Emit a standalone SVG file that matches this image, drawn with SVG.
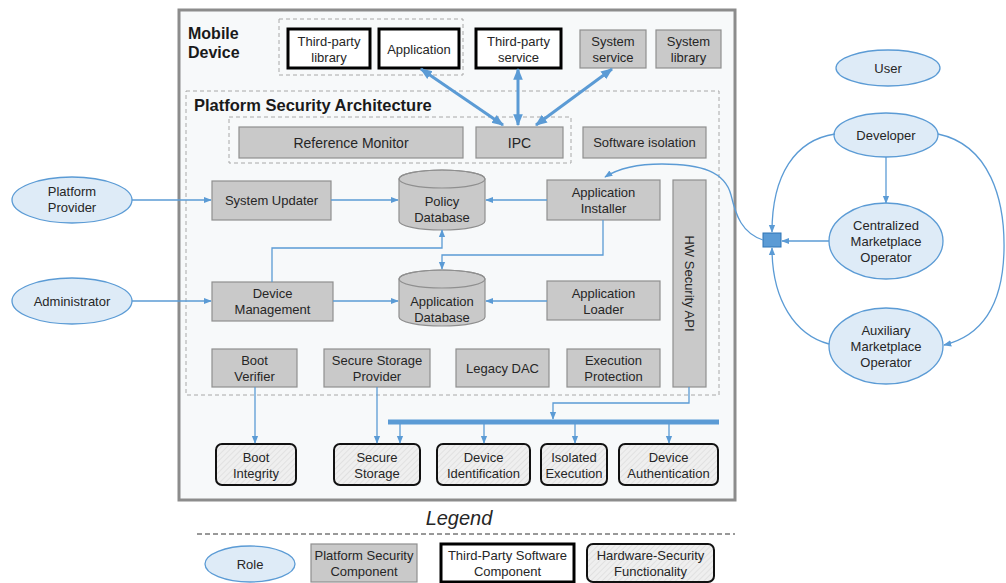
<svg xmlns="http://www.w3.org/2000/svg" width="1006" height="583" viewBox="0 0 1006 583">
<style>
text{font-family:"Liberation Sans",Arial,sans-serif;font-size:13px;fill:#262626;text-anchor:middle}
.t{font-weight:bold;font-size:16px;text-anchor:start;fill:#1a1a1a}
.g{fill:#c9c9c9;stroke:#8f8f8f;stroke-width:1.2}
.w{fill:#fff;stroke:#000;stroke-width:3}
.h{fill:url(#hatch);stroke:#111;stroke-width:2}
.e{fill:#deebf7;stroke:#5b9bd5;stroke-width:1.3}
.d{fill:none;stroke:#a8a8a8;stroke-width:1;stroke-dasharray:4 3}
.c{fill:none;stroke:#5b9bd5;stroke-width:1.3}
.cb{fill:none;stroke:#5b9bd5;stroke-width:3}
</style>
<defs>
<pattern id="hatch" width="4" height="4" patternUnits="userSpaceOnUse" patternTransform="rotate(45)">
<rect width="4" height="4" fill="#efefef"/><line x1="0" y1="0" x2="0" y2="4" stroke="#d4d4d4" stroke-width="1"/>
</pattern>
<marker id="a" viewBox="0 0 10 10" refX="9" refY="5" markerWidth="8" markerHeight="8" markerUnits="userSpaceOnUse" orient="auto-start-reverse"><path d="M0,1 L10,5 L0,9 z" fill="#5b9bd5"/></marker>
<marker id="ab" viewBox="0 0 10 10" refX="9" refY="5" markerWidth="12" markerHeight="12" markerUnits="userSpaceOnUse" orient="auto-start-reverse"><path d="M0,1 L10,5 L0,9 z" fill="#5b9bd5"/></marker>
</defs>
<rect width="1006" height="583" fill="#fff"/>
<g id="mobile-device">
<rect x="179" y="10" width="556" height="490" fill="#f7f9fa" stroke="#8c8c8c" stroke-width="3"/>
<text class="t" x="188" y="39">Mobile</text><text class="t" x="188" y="58">Device</text>
</g>
<rect class="d" x="279" y="19" width="184" height="56"/>
<g id="third-party-library"><rect class="w" x="288" y="29" width="82" height="39"/><text x="329" y="46">Third-party</text><text x="329" y="62">library</text></g>
<g id="application"><rect class="w" x="379" y="29" width="80" height="39"/><text x="419" y="54">Application</text></g>
<g id="third-party-service"><rect class="w" x="476" y="29" width="85" height="39"/><text x="518.5" y="46">Third-party</text><text x="518.5" y="62">service</text></g>
<g id="system-service"><rect class="g" x="580" y="30" width="66" height="38"/><text x="613" y="46">System</text><text x="613" y="62">service</text></g>
<g id="system-library"><rect class="g" x="656" y="30" width="65" height="38"/><text x="688.5" y="46">System</text><text x="688.5" y="62">library</text></g>
<g id="psa">
<rect class="d" x="186" y="91" width="533" height="304"/>
<text class="t" x="194" y="111" style="font-size:16.5px">Platform Security Architecture</text>
<rect class="d" x="229" y="117" width="342" height="46"/>
</g>
<g id="reference-monitor"><rect class="g" x="239" y="127" width="224" height="31"/><text x="351" y="148" style="font-size:14px">Reference Monitor</text></g>
<g id="ipc"><rect class="g" x="476" y="127" width="87" height="31"/><text x="519.5" y="148" style="font-size:14px">IPC</text></g>
<g id="software-isolation"><rect class="g" x="583" y="127" width="123" height="31"/><text x="644.5" y="147">Software isolation</text></g>
<g id="system-updater"><rect class="g" x="212" y="181" width="119" height="39"/><text x="271.5" y="205">System Updater</text></g>
<g id="policy-database"><path class="g" d="M399,179 A43,9 0 0 1 485,179 L485,221 A43,9 0 0 1 399,221 Z"/><ellipse cx="442" cy="179" rx="43" ry="9" fill="none" stroke="#8f8f8f" stroke-width="1.2"/><text x="442" y="206">Policy</text><text x="442" y="222">Database</text></g>
<g id="application-installer"><rect class="g" x="547" y="180" width="113" height="40"/><text x="603.5" y="197">Application</text><text x="603.5" y="213">Installer</text></g>
<g id="hw-security-api"><rect class="g" x="673" y="180" width="33" height="207"/><text transform="translate(685 283.5) rotate(90)" x="0" y="0">HW Security API</text></g>
<g id="device-management"><rect class="g" x="212" y="282" width="121" height="39"/><text x="272.5" y="298">Device</text><text x="272.5" y="314">Management</text></g>
<g id="application-database"><path class="g" d="M399,279 A43,9 0 0 1 485,279 L485,317 A43,9 0 0 1 399,317 Z"/><ellipse cx="442" cy="279" rx="43" ry="9" fill="none" stroke="#8f8f8f" stroke-width="1.2"/><text x="442" y="306">Application</text><text x="442" y="322">Database</text></g>
<g id="application-loader"><rect class="g" x="547" y="281" width="113" height="39"/><text x="603.5" y="298">Application</text><text x="603.5" y="314">Loader</text></g>
<g id="boot-verifier"><rect class="g" x="212" y="349" width="85" height="38"/><text x="254.5" y="365">Boot</text><text x="254.5" y="381">Verifier</text></g>
<g id="secure-storage-provider"><rect class="g" x="324" y="349" width="106" height="38"/><text x="377" y="365">Secure Storage</text><text x="377" y="381">Provider</text></g>
<g id="legacy-dac"><rect class="g" x="456" y="349" width="93" height="38"/><text x="502.5" y="373">Legacy DAC</text></g>
<g id="execution-protection"><rect class="g" x="567" y="349" width="93" height="38"/><text x="613.5" y="365">Execution</text><text x="613.5" y="381">Protection</text></g>
<g id="boot-integrity"><rect class="h" x="216" y="444" width="80" height="41" rx="6"/><text x="256" y="462">Boot</text><text x="256" y="478">Integrity</text></g>
<g id="secure-storage"><rect class="h" x="334" y="444" width="86" height="41" rx="6"/><text x="377" y="462">Secure</text><text x="377" y="478">Storage</text></g>
<g id="device-identification"><rect class="h" x="437" y="444" width="93" height="41" rx="6"/><text x="483.5" y="462">Device</text><text x="483.5" y="478">Identification</text></g>
<g id="isolated-execution"><rect class="h" x="541" y="444" width="66" height="41" rx="6"/><text x="574" y="462">Isolated</text><text x="574" y="478">Execution</text></g>
<g id="device-authentication"><rect class="h" x="619" y="444" width="99" height="41" rx="6"/><text x="668.5" y="462">Device</text><text x="668.5" y="478">Authentication</text></g>
<g id="platform-provider"><ellipse class="e" cx="72" cy="200" rx="60" ry="23"/><text x="72" y="196">Platform</text><text x="72" y="212">Provider</text></g>
<g id="administrator"><ellipse class="e" cx="72" cy="301" rx="60" ry="23"/><text x="72" y="306">Administrator</text></g>
<g id="user"><ellipse class="e" cx="888" cy="68" rx="52" ry="18"/><text x="888" y="73">User</text></g>
<g id="developer"><ellipse class="e" cx="886" cy="135" rx="52" ry="22"/><text x="886" y="140">Developer</text></g>
<g id="centralized-marketplace-operator"><ellipse class="e" cx="886" cy="241" rx="57" ry="38"/><text x="886" y="230">Centralized</text><text x="886" y="246">Marketplace</text><text x="886" y="262">Operator</text></g>
<g id="auxiliary-marketplace-operator"><ellipse class="e" cx="886" cy="346" rx="57" ry="38"/><text x="886" y="335">Auxiliary</text><text x="886" y="351">Marketplace</text><text x="886" y="367">Operator</text></g>
<g id="marketplace-junction"><rect x="763" y="233" width="18" height="14" fill="#5b9bd5" stroke="#2e75b6" stroke-width="1"/></g>
<g id="connectors">
<path class="cb" d="M421,69 L503,125" marker-start="url(#ab)" marker-end="url(#ab)"/>
<path class="cb" d="M518,69 L518,125" marker-start="url(#ab)" marker-end="url(#ab)"/>
<path class="cb" d="M612,69 L536,125" marker-start="url(#ab)" marker-end="url(#ab)"/>
<path class="c" d="M132,200 H211" marker-end="url(#a)"/>
<path class="c" d="M132,301 H211" marker-end="url(#a)"/>
<path class="c" d="M331,200 H398" marker-end="url(#a)"/>
<path class="c" d="M547,200 H486" marker-end="url(#a)"/>
<path class="c" d="M333,301 H398" marker-end="url(#a)"/>
<path class="c" d="M547,301 H486" marker-end="url(#a)"/>
<path class="c" d="M272,282 V248 H442 V230" marker-end="url(#a)"/>
<path class="c" d="M603,220 V255 H442 V269" marker-end="url(#a)"/>
<path class="c" d="M763,240 C742,233 736,216 731,195 C725,172 702,164 662,164 C632,164 616,170 605,177" marker-end="url(#a)"/>
<path class="c" d="M886,157 V203" marker-end="url(#a)"/>
<path class="c" d="M835,134 C795,140 772,175 772,232" marker-end="url(#a)"/>
<path class="c" d="M938,134 C990,145 1005,200 1004,250 C1003,300 985,335 944,345" marker-end="url(#a)"/>
<path class="c" d="M829,241 H782" marker-end="url(#a)"/>
<path class="c" d="M829,344 C795,335 772,300 772,248" marker-end="url(#a)"/>
<path class="c" d="M255,387 V443" marker-end="url(#a)"/>
<path class="c" d="M377,387 V443" marker-end="url(#a)"/>
<path class="c" d="M689,387 V403 H553 V419" marker-end="url(#a)"/>
<line x1="388" y1="422" x2="719" y2="422" stroke="#5b9bd5" stroke-width="5"/>
<path class="c" d="M400,424 V443" marker-end="url(#a)"/>
<path class="c" d="M484,424 V443" marker-end="url(#a)"/>
<path class="c" d="M575,424 V443" marker-end="url(#a)"/>
<path class="c" d="M669,424 V443" marker-end="url(#a)"/>
</g>
<g id="legend">
<text x="459" y="525" style="font-size:20px;font-style:italic">Legend</text>
<line x1="197" y1="534" x2="735" y2="534" stroke="#333" stroke-width="1" stroke-dasharray="5 3"/>
<ellipse class="e" cx="250" cy="564" rx="45" ry="18"/><text x="250" y="569">Role</text>
<rect class="g" x="311" y="544" width="106" height="38"/><text x="364" y="560">Platform Security</text><text x="364" y="576">Component</text>
<rect class="w" x="441" y="544" width="133" height="38"/><text x="507.5" y="560">Third-Party Software</text><text x="507.5" y="576">Component</text>
<rect class="h" x="587" y="544" width="127" height="38" rx="6"/><text x="650.5" y="560">Hardware-Security</text><text x="650.5" y="576">Functionality</text>
</g>
</svg>
